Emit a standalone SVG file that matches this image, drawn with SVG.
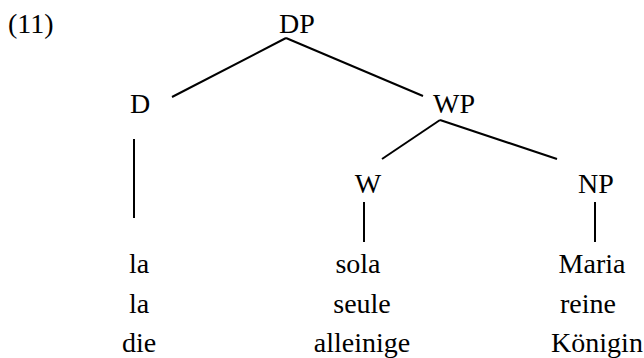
<svg xmlns="http://www.w3.org/2000/svg" width="644" height="358" viewBox="0 0 644 358">
  <style>
    .t { font-family: 'Liberation Serif', 'DejaVu Serif', serif; font-size: 28px; fill: #000; }
    .c { text-anchor: middle; }
    .edge { stroke: #000; stroke-width: 2; fill: none; }
  </style>
  <rect width="644" height="358" fill="#fff"/>
  <text id="example-number" class="t" font-family="Liberation Serif, serif" x="8" y="33">(11)</text>

  <g id="edges">
    <line class="edge" x1="286" y1="38" x2="172" y2="97"/>
    <line class="edge" x1="286" y1="38" x2="423" y2="96"/>
    <line class="edge" x1="440" y1="120" x2="382" y2="159"/>
    <line class="edge" x1="440" y1="120" x2="557" y2="159"/>
    <line class="edge" x1="134" y1="139" x2="134" y2="218"/>
    <line class="edge" x1="364" y1="202" x2="364" y2="242"/>
    <line class="edge" x1="595" y1="202" x2="595" y2="242"/>
  </g>

  <g class="t" font-family="Liberation Serif, serif">
    <g id="node-DP"><text class="c" x="297" y="33">DP</text></g>
    <g id="node-D"><text class="c" x="140" y="113">D</text></g>
    <g id="node-WP"><text class="c" x="454" y="113">WP</text></g>
    <g id="node-W"><text class="c" x="368" y="193">W</text></g>
    <g id="node-NP"><text class="c" x="596" y="193">NP</text></g>

    <g id="leaf-D">
      <text class="c" x="139" y="273">la</text>
      <text class="c" x="139" y="313">la</text>
      <text class="c" x="139" y="352">die</text>
    </g>
    <g id="leaf-W">
      <text class="c" x="358" y="273">sola</text>
      <text class="c" x="362" y="313">seule</text>
      <text class="c" x="362" y="352">alleinige</text>
    </g>
    <g id="leaf-NP">
      <text class="c" x="592" y="273">Maria</text>
      <text class="c" x="588" y="313">reine</text>
      <text class="c" x="597" y="352">Königin</text>
    </g>
  </g>
</svg>
